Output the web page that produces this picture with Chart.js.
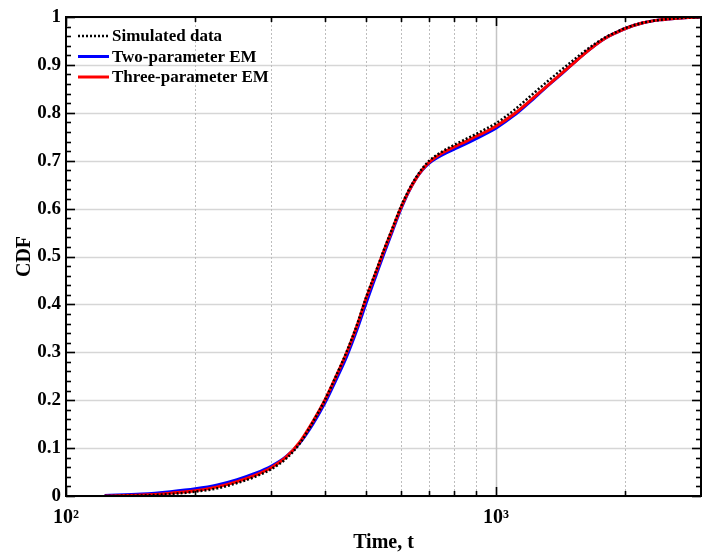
<!DOCTYPE html>
<html>
<head>
<meta charset="utf-8">
<script src="https://cdn.jsdelivr.net/npm/chart.js@4"></script>
<style>
html,body{margin:0;padding:0;background:#fff;}
#wrap{width:702px;height:553px;position:relative;}
</style>
</head>
<body>
<div id="wrap"><canvas id="c"></canvas></div>
<script>
// ---- data ----
const times = [123,150,175,200,225,250,275,300,325,350,375,400,425,450,475,500,525,550,575,600,625,650,675,700,750,800,850,900,950,1000,1100,1200,1300,1400,1500,1600,1700,1800,1900,2000,2200,2400,2600,2800,3000];
const simulated = [0.000,0.001,0.004,0.009,0.016,0.027,0.040,0.056,0.078,0.110,0.154,0.200,0.251,0.302,0.357,0.417,0.467,0.516,0.560,0.602,0.636,0.663,0.684,0.700,0.719,0.733,0.745,0.756,0.767,0.778,0.805,0.834,0.861,0.885,0.907,0.927,0.944,0.958,0.968,0.977,0.988,0.994,0.997,0.999,1.000];
const twoParam = [0.001,0.004,0.009,0.015,0.023,0.034,0.047,0.062,0.082,0.111,0.150,0.194,0.243,0.292,0.347,0.405,0.458,0.508,0.554,0.597,0.633,0.661,0.681,0.695,0.712,0.724,0.735,0.746,0.757,0.768,0.794,0.823,0.851,0.876,0.900,0.922,0.941,0.956,0.967,0.976,0.988,0.994,0.997,0.999,1.000];
const threeParam = [0.000,0.002,0.006,0.011,0.019,0.030,0.043,0.059,0.081,0.113,0.155,0.200,0.250,0.300,0.355,0.415,0.465,0.514,0.558,0.600,0.634,0.661,0.682,0.697,0.716,0.729,0.740,0.751,0.761,0.772,0.797,0.825,0.852,0.877,0.900,0.922,0.941,0.956,0.967,0.976,0.988,0.994,0.997,0.999,1.000];
const seriesLabels = ['Simulated data','Two-parameter EM','Three-parameter EM'];
const xTickValues = [100,200,300,400,500,600,700,800,900,1000,2000,3000];
const xTickLabels = {100:'10\u00B2',1000:'10\u00B3'};
const yTickValues = [0,0.1,0.2,0.3,0.4,0.5,0.6,0.7,0.8,0.9,1];

const pts = arr => times.map((t,i)=>({x:t,y:arr[i]}));
const FONT = '"Liberation Serif","Times New Roman",serif';

const framePlugin = {
  id:'frame',
  beforeDatasetsDraw(chart){
    const {ctx, chartArea:a, scales:{x,y}} = chart;
    ctx.save();
    ctx.strokeStyle = '#d6d6d6'; ctx.lineWidth = 1.6; ctx.setLineDash([]);
    yTickValues.forEach(v=>{
      const py = Math.round(y.getPixelForValue(v))+0.5;
      ctx.beginPath(); ctx.moveTo(a.left,py); ctx.lineTo(a.right,py); ctx.stroke();
    });
    xTickValues.forEach(v=>{
      if (v===100||v===3000) return;
      const px = Math.round(x.getPixelForValue(v))+0.5;
      if (v===1000){ ctx.strokeStyle='#c4c4c4'; ctx.lineWidth=1.5; ctx.setLineDash([]); }
      else { ctx.strokeStyle='#bdbdbd'; ctx.lineWidth=1; ctx.setLineDash([2,2]); }
      ctx.beginPath(); ctx.moveTo(px,a.top); ctx.lineTo(px,a.bottom); ctx.stroke();
    });
    ctx.restore();
  },
  afterDatasetsDraw(chart){
    const {ctx, chartArea:a, scales:{x,y}} = chart;
    ctx.save();
    ctx.setLineDash([]);
    ctx.strokeStyle = '#000'; ctx.lineWidth = 1.6;
    for (let k=0;k<=50;k++){
      const v = k/50;
      const py = Math.round(y.getPixelForValue(v))+0.5;
      const len = (k%5===0)?9:5;
      ctx.beginPath(); ctx.moveTo(a.left,py); ctx.lineTo(a.left+len,py); ctx.stroke();
      ctx.beginPath(); ctx.moveTo(a.right,py); ctx.lineTo(a.right-len,py); ctx.stroke();
    }
    xTickValues.forEach(v=>{
      const px = Math.round(x.getPixelForValue(v))+0.5;
      const len = (v===100||v===1000)?9:5;
      ctx.beginPath(); ctx.moveTo(px,a.bottom); ctx.lineTo(px,a.bottom-len); ctx.stroke();
      ctx.beginPath(); ctx.moveTo(px,a.top); ctx.lineTo(px,a.top+len); ctx.stroke();
    });
    ctx.lineWidth = 2;
    ctx.strokeRect(a.left, a.top, a.right-a.left, a.bottom-a.top);
    ctx.restore();
  },
  afterDraw(chart){
    const {ctx, chartArea:a} = chart;
    ctx.save();
    ctx.font = 'bold 17px ' + FONT;
    ctx.textBaseline = 'middle';
    ctx.fillStyle = '#000';
    const x0 = a.left + 12, x1 = a.left + 43, tx = a.left + 46;
    [0,1,2].forEach(i=>{
      const ds = chart.data.datasets[i];
      const yy = a.top + 19 + i*20.5;
      ctx.strokeStyle = ds.borderColor; ctx.lineWidth = ds.borderWidth;
      ctx.setLineDash(ds.borderDash || []);
      ctx.beginPath(); ctx.moveTo(x0,yy); ctx.lineTo(x1,yy); ctx.stroke();
      ctx.setLineDash([]);
      ctx.fillText(ds.label, tx, yy+1);
    });
    ctx.restore();
  }
};

new Chart(document.getElementById('c'), {
  type:'line',
  data:{
    datasets:[
      {label:seriesLabels[0], data:pts(simulated), borderColor:'#000', borderWidth:2.5, borderDash:[2,2], pointRadius:0, order:0, cubicInterpolationMode:'monotone'},
      {label:seriesLabels[1], data:pts(twoParam), borderColor:'#0000ff', borderWidth:3, pointRadius:0, order:2, cubicInterpolationMode:'monotone'},
      {label:seriesLabels[2], data:pts(threeParam), borderColor:'#ff0000', borderWidth:3, pointRadius:0, order:1, cubicInterpolationMode:'monotone'}
    ]
  },
  options:{
    responsive:true, maintainAspectRatio:false, animation:false, devicePixelRatio:1,
    layout:{padding:{top:17,right:1,left:0,bottom:0}},
    plugins:{legend:{display:false}, tooltip:{enabled:false}},
    scales:{
      x:{
        type:'logarithmic', min:100, max:3000,
        afterBuildTicks:s=>{ s.ticks = xTickValues.map(v=>({value:v})); },
        afterFit:s=>{ s.height = 57; s.paddingRight = 0; s.paddingLeft = 0; },
        grid:{display:false, drawTicks:false},
        border:{display:false},
        ticks:{autoSkip:false, maxRotation:0, padding:10, color:'#000',
          font:{family:FONT, size:20, weight:'bold'},
          callback:(v)=> xTickLabels[v] || ''},
        title:{display:true, text:'Time, t', color:'#000', font:{family:FONT,size:20,weight:'bold',lineHeight:1}, padding:{top:0,bottom:0}}
      },
      y:{
        min:0, max:1,
        afterBuildTicks:s=>{ s.ticks = yTickValues.map(v=>({value:v})); },
        afterFit:s=>{ s.width = 66; },
        grid:{display:false, drawTicks:false},
        border:{display:false},
        ticks:{padding:5, color:'#000', font:{family:FONT,size:19,weight:'bold'},
          callback:v=> String(Math.round(v*10)/10)},
        title:{display:true, text:'CDF', color:'#000', font:{family:FONT,size:20,weight:'bold',lineHeight:1}, padding:{top:15,bottom:0}}
      }
    }
  },
  plugins:[framePlugin]
});
</script>
</body>
</html>
